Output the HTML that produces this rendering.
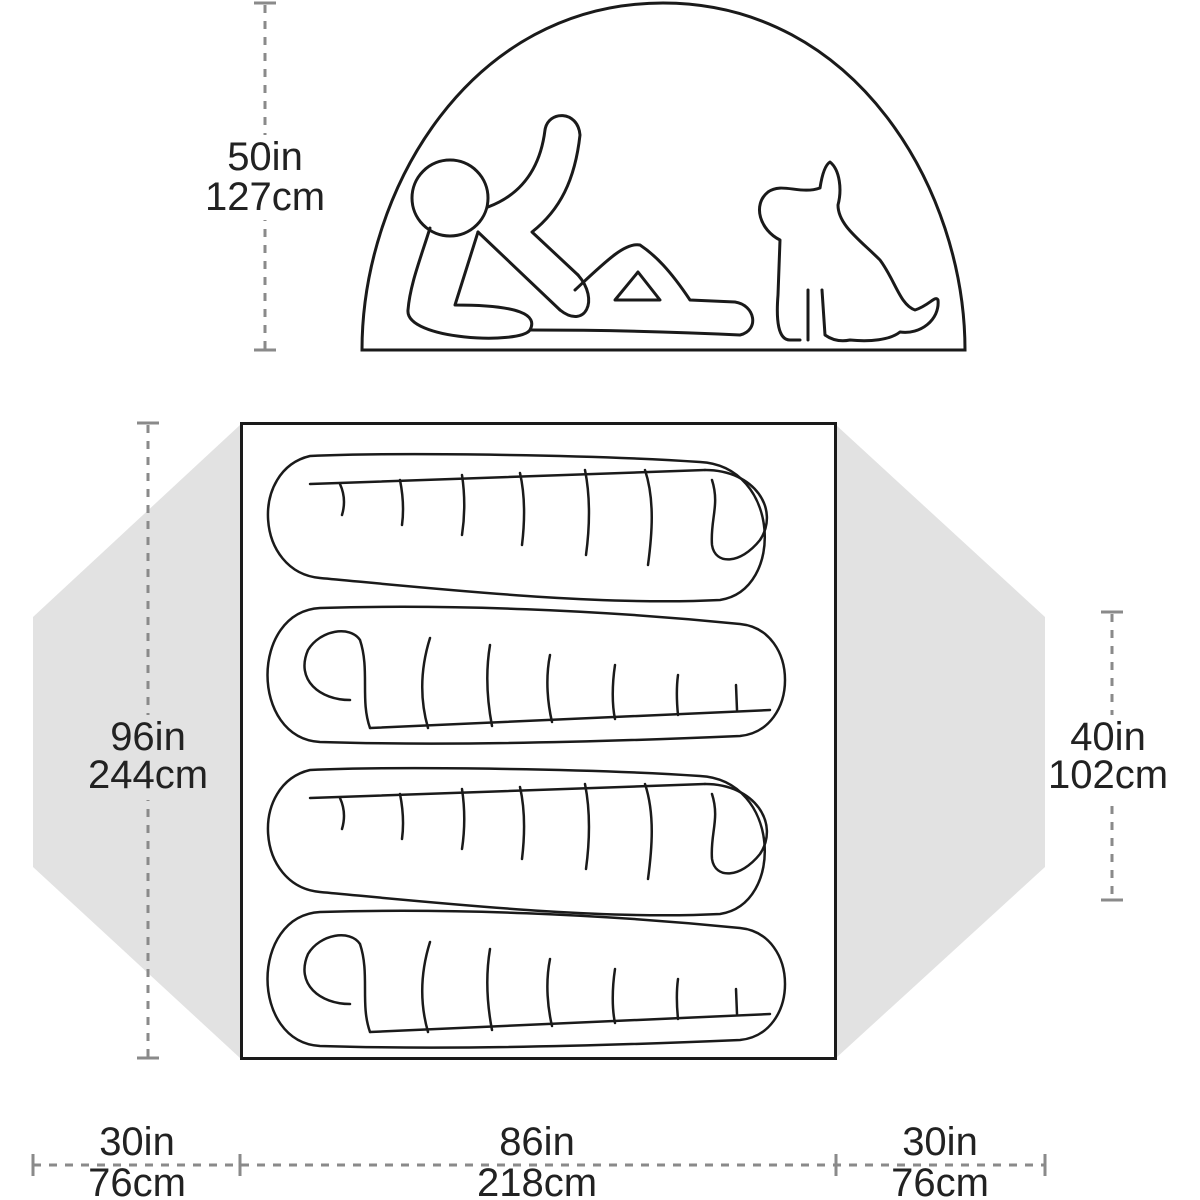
<!DOCTYPE html>
<html><head><meta charset="utf-8"><style>
html,body{margin:0;padding:0;background:#fff;}
svg{display:block;}
text{font-family:"Liberation Sans",sans-serif;font-size:40px;fill:#222;text-anchor:middle;}
</style></head><body>
<svg width="1200" height="1200" viewBox="0 0 1200 1200" xmlns="http://www.w3.org/2000/svg">
<polygon points="240,425 33,617 33,867 240,1058" fill="#e2e2e2"/>
<polygon points="836,425 1045,617 1045,867 836,1058" fill="#e2e2e2"/>
<rect x="241.5" y="423.5" width="594" height="635" fill="#fff" stroke="#1a1a1a" stroke-width="3"/>
<path d="M362,350 C362,190 470,3 663,3 C856,3 965,190 965,350 Z" fill="#fff" stroke="#1a1a1a" stroke-width="3"/>
<g fill="none" stroke="#1a1a1a" stroke-width="3" stroke-linecap="round" stroke-linejoin="round">
<circle cx="450" cy="198" r="38"/>
<path d="M488,207 C520,195 540,170 545,130 C548,110 578,110 580,135 C575,180 560,210 532,232 L578,275"/>
<path d="M478,232 L560,310"/>
<path d="M578,275 C600,300 585,330 560,310"/>
<path d="M430,228 C420,260 410,285 408,310 C405,340 520,345 530,330 C538,315 520,305 455,305 L478,232"/>
<path d="M530,330 C600,330 680,332 740,335 C760,330 755,305 735,302 L690,300 C670,270 655,255 640,245 C625,242 605,262 575,290"/>
<path d="M615,300 L638,272 L660,300 Z"/>
<path d="M800,340 L790,340 C778,340 776,320 778,295 L780,240 C760,230 752,205 768,192 C782,182 800,195 820,188 C822,175 825,165 830,162 C840,170 842,190 838,205 C838,225 860,240 880,260 C895,280 900,305 915,310 C930,305 935,295 938,300 C940,320 920,335 900,332 C890,340 870,342 850,340 C840,342 832,340 825,335 L822,290 M808,340 L808,290"/>
</g>
<g fill="none" stroke="#1a1a1a" stroke-width="2.5" stroke-linecap="round" stroke-linejoin="round">
<g id="bagA">
<path d="M310,456 C400,452 600,455 700,462 C780,466 785,590 720,600 C600,606 450,590 320,578 C255,572 250,470 310,456 Z"/>
<path d="M310,484 L705,470"/>
<path d="M340,484 C345,495 345,505 342,515 M400,480 C403,495 404,510 402,525 M462,475 C465,495 465,515 462,535 M520,473 C525,495 525,520 522,545 M585,470 C590,495 590,525 586,555 M645,470 C655,500 652,535 648,565"/>
<path d="M705,470 C755,470 780,510 760,540 C740,565 715,565 712,545 C710,520 720,505 712,480"/>
</g>
<g id="bagB">
<path d="M320,608 C450,604 600,610 740,624 C800,630 800,730 740,736 C600,742 450,746 320,742 C250,738 250,612 320,608 Z"/>
<path d="M370,728 L770,710"/>
<path d="M430,638 C420,670 420,700 428,728 M490,645 C485,675 488,705 492,726 M550,655 C545,680 548,705 552,722 M615,665 C612,685 612,705 615,719 M678,675 C676,690 677,705 678,715 M736,685 L737,710"/>
<path d="M370,728 C360,700 370,670 360,640 C350,625 320,630 308,650 C295,680 320,700 350,700"/>
</g>
<use href="#bagA" transform="translate(0,314)"/>
<use href="#bagB" transform="translate(0,304)"/>
</g>
<g stroke="#8a8a8a" stroke-width="3" fill="none">
<path d="M265,5 V350" stroke-dasharray="8,8"/>
<path d="M254,3 H276 M254,350 H276"/>
<path d="M148,425 V1058" stroke-dasharray="8,8"/>
<path d="M137,423 H159 M137,1058 H159"/>
<path d="M1112,614 V900" stroke-dasharray="8,8"/>
<path d="M1101,612 H1123 M1101,900 H1123"/>
<path d="M33,1165 H1045" stroke-dasharray="8,8"/>
<path d="M33,1154 V1176 M240,1154 V1176 M836,1154 V1176 M1045,1154 V1176"/>
</g>
<rect x="205" y="135" width="120" height="85" fill="#fff"/>
<rect x="85" y="715" width="130" height="85" fill="#e2e2e2"/>
<rect x="1045" y="715" width="130" height="85" fill="#fff"/>
<text x="265" y="170">50in</text><text x="265" y="210">127cm</text>
<text x="148" y="750">96in</text><text x="148" y="788">244cm</text>
<text x="1108" y="750">40in</text><text x="1108" y="788">102cm</text>
<text x="137" y="1155">30in</text><text x="137" y="1196">76cm</text>
<text x="537" y="1155">86in</text><text x="537" y="1196">218cm</text>
<text x="940" y="1155">30in</text><text x="940" y="1196">76cm</text>
</svg>
</body></html>
